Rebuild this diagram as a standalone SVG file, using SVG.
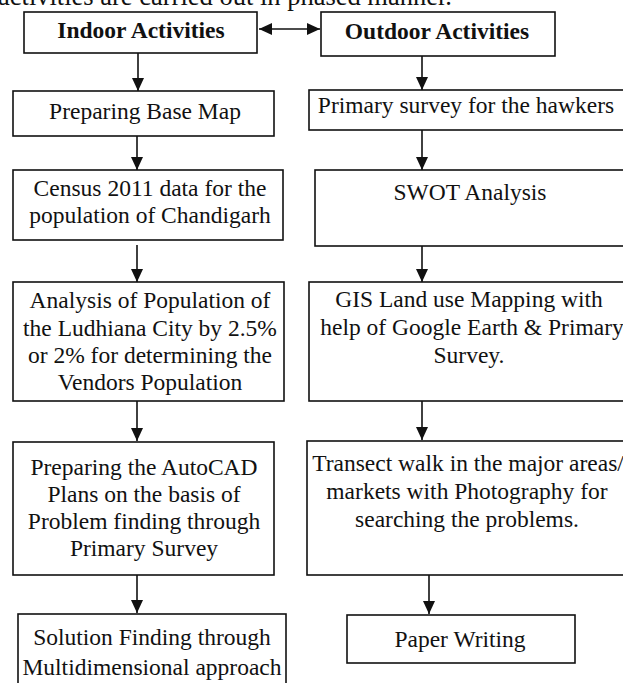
<svg xmlns="http://www.w3.org/2000/svg" width="623" height="683" viewBox="0 0 623 683">
<style>
  .box { fill: #fff; stroke: #111; stroke-width: 1.6; }
  .t { font-family: "Liberation Serif", "Times New Roman", serif; font-size: 23.5px; fill: #111; text-anchor: middle; }
  .b { font-weight: bold; }
  .c { stroke: #111; stroke-width: 1.6; fill: none; }
</style>
<defs>
  <marker id="ah" markerUnits="userSpaceOnUse" markerWidth="14" markerHeight="14" viewBox="0 0 14 14" refX="13" refY="7" orient="auto-start-reverse">
    <path d="M0,1 L13,7 L0,13 Z" fill="#111"/>
  </marker>
</defs>
<rect width="623" height="683" fill="#fff"/>
<text class="t" x="452" y="5" style="text-anchor:end;font-size:26.5px">activities are carried out in phased manner.</text>

<g id="connectors">
  <line class="c" x1="259" y1="29" x2="320" y2="29" marker-start="url(#ah)" marker-end="url(#ah)"/>
  <line class="c" x1="138" y1="53" x2="138" y2="91" marker-end="url(#ah)"/>
  <line class="c" x1="137" y1="136" x2="137" y2="170" marker-end="url(#ah)"/>
  <line class="c" x1="137" y1="245" x2="137" y2="282" marker-end="url(#ah)"/>
  <line class="c" x1="137" y1="401" x2="137" y2="441" marker-end="url(#ah)"/>
  <line class="c" x1="137" y1="575" x2="137" y2="613" marker-end="url(#ah)"/>
  <line class="c" x1="422" y1="56" x2="422" y2="90" marker-end="url(#ah)"/>
  <line class="c" x1="422" y1="130" x2="422" y2="170" marker-end="url(#ah)"/>
  <line class="c" x1="422" y1="246" x2="422" y2="282" marker-end="url(#ah)"/>
  <line class="c" x1="422" y1="401" x2="422" y2="440" marker-end="url(#ah)"/>
  <line class="c" x1="429" y1="575" x2="429" y2="614" marker-end="url(#ah)"/>
</g>

<g id="indoor">
  <rect class="box" x="24" y="12" width="233" height="41"/>
  <text class="t b" x="141" y="38">Indoor Activities</text>
</g>
<g id="outdoor">
  <rect class="box" x="321" y="12" width="234" height="44"/>
  <text class="t b" x="437" y="39">Outdoor Activities</text>
</g>
<g id="base-map">
  <rect class="box" x="13" y="91" width="261" height="45"/>
  <text class="t" x="145" y="119">Preparing Base Map</text>
</g>
<g id="census">
  <rect class="box" x="13" y="170" width="270" height="70"/>
  <text class="t" x="150" y="196">Census 2011 data for the</text>
  <text class="t" x="150" y="223">population of Chandigarh</text>
</g>
<g id="analysis">
  <rect class="box" x="13" y="282" width="271" height="119"/>
  <text class="t" x="150" y="308">Analysis of Population of</text>
  <text class="t" x="150" y="336">the Ludhiana City by 2.5%</text>
  <text class="t" x="150" y="363">or 2% for determining the</text>
  <text class="t" x="150" y="390">Vendors Population</text>
</g>
<g id="autocad">
  <rect class="box" x="13" y="442" width="261" height="133"/>
  <text class="t" x="144" y="475">Preparing the AutoCAD</text>
  <text class="t" x="144" y="502">Plans on the basis of</text>
  <text class="t" x="144" y="529">Problem finding through</text>
  <text class="t" x="144" y="556">Primary Survey</text>
</g>
<g id="solution">
  <rect class="box" x="18" y="614" width="268" height="80"/>
  <text class="t" x="152" y="645">Solution Finding through</text>
  <text class="t" x="152" y="675">Multidimensional approach</text>
</g>
<g id="primary-survey">
  <rect class="box" x="309" y="90" width="330" height="40"/>
  <text class="t" x="466" y="113">Primary survey for the hawkers</text>
</g>
<g id="swot">
  <rect class="box" x="315" y="170" width="330" height="76"/>
  <text class="t" x="470" y="200">SWOT Analysis</text>
</g>
<g id="gis">
  <rect class="box" x="309" y="282" width="330" height="119"/>
  <text class="t" x="469" y="307">GIS Land use Mapping with</text>
  <text class="t" x="472" y="335">help of Google Earth &amp; Primary</text>
  <text class="t" x="469" y="363">Survey.</text>
</g>
<g id="transect">
  <rect class="box" x="307" y="441" width="330" height="134"/>
  <text class="t" x="468" y="471">Transect walk in the major areas/</text>
  <text class="t" x="467" y="499">markets with Photography for</text>
  <text class="t" x="467" y="527">searching the problems.</text>
</g>
<g id="paper">
  <rect class="box" x="347" y="615" width="228" height="48"/>
  <text class="t" x="460" y="647">Paper Writing</text>
</g>
</svg>
